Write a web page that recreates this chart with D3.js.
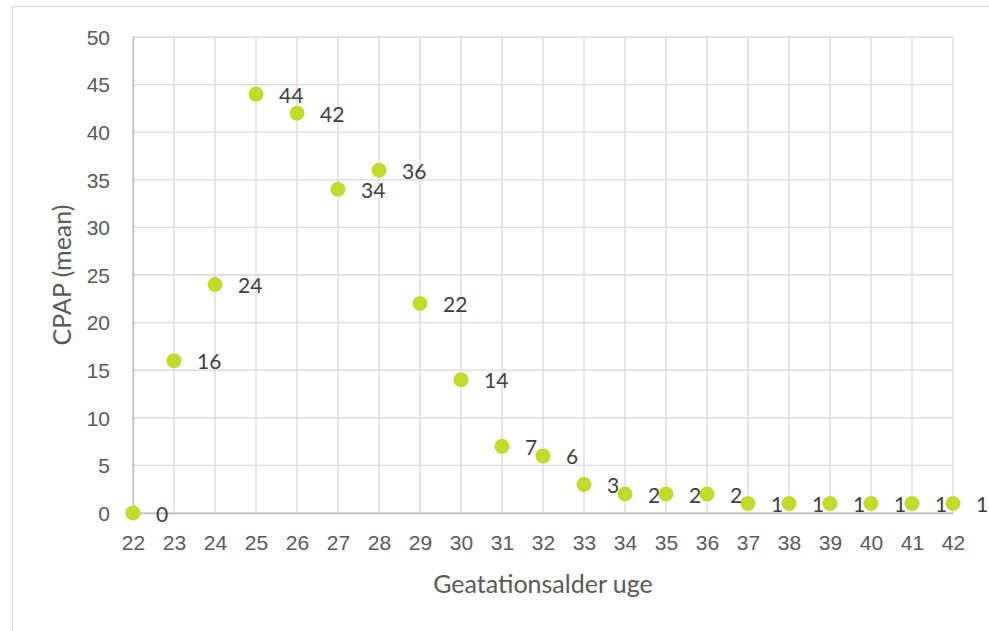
<!DOCTYPE html>
<html>
<head>
<meta charset="utf-8">
<script src="https://cdn.jsdelivr.net/npm/d3@7"></script>
<style>
  html, body { margin: 0; padding: 0; background: #fff; }
  svg { display: block; font-family: Lato, "Noto Sans", sans-serif; }
</style>
</head>
<body>
<svg id="chart" width="989" height="631"></svg>
<script>
// Gestational age (weeks) and mean CPAP
const weeks = [22, 23, 24, 25, 26, 27, 28, 29, 30, 31, 32, 33, 34, 35, 36, 37, 38, 39, 40, 41, 42];
const cpapMean = [0, 16, 24, 44, 42, 34, 36, 22, 14, 7, 6, 3, 2, 2, 2, 1, 1, 1, 1, 1, 1];
const yTicks = [0, 5, 10, 15, 20, 25, 30, 35, 40, 45, 50];
const xTitle = "Geatationsalder uge";
const yTitle = "CPAP (mean)";

const points = weeks.map((w, i) => ({ week: w, value: cpapMean[i] }));

const svg = d3.select("#chart");
const margin = { left: 133, right: 36, top: 37, bottom: 118 };
const W = 989, H = 631;

const x = d3.scaleLinear().domain([22, 42]).range([margin.left, W - margin.right]);
const y = d3.scaleLinear().domain([0, 50]).range([H - margin.bottom, margin.top]);

// chart area frame
svg.append("rect")
  .attr("x", 12.5).attr("y", 6.5)
  .attr("width", 1000).attr("height", 700)
  .attr("fill", "#fff").attr("stroke", "#d9d9d9").attr("stroke-width", 1.3);

// gridlines
const grid = svg.append("g").attr("stroke", "#d9d9d9").attr("stroke-width", 1.3);
grid.selectAll("line.v").data(weeks).join("line")
  .attr("class", "v")
  .attr("x1", d => x(d)).attr("x2", d => x(d))
  .attr("y1", y(50)).attr("y2", y(0));
grid.selectAll("line.h").data(yTicks).join("line")
  .attr("class", "h")
  .attr("x1", x(22)).attr("x2", x(42))
  .attr("y1", d => y(d)).attr("y2", d => y(d));

// axes
const xAxis = svg.append("g")
  .attr("transform", `translate(0,${y(0)})`)
  .call(d3.axisBottom(x).tickValues(weeks).tickFormat(d3.format("d")).tickSize(0).tickPadding(22));
const yAxis = svg.append("g")
  .attr("transform", `translate(${x(22)},0)`)
  .call(d3.axisLeft(y).tickValues(yTicks).tickSize(0).tickPadding(23));
[xAxis, yAxis].forEach(a => {
  a.select(".domain").attr("stroke", "#bfbfbf").attr("stroke-width", 1.5);
  a.selectAll("text").attr("fill", "#595959").attr("font-size", 21).attr("font-family", null);
});
yAxis.selectAll("text").attr("dy", "0.35em");

// axis titles
svg.append("text")
  .attr("x", (x(22) + x(42)) / 2).attr("y", 593)
  .attr("text-anchor", "middle").attr("fill", "#595959").attr("font-size", 25)
  .text(xTitle);
svg.append("text")
  .attr("transform", `translate(71,${(y(0) + y(50)) / 2}) rotate(-90)`)
  .attr("text-anchor", "middle").attr("fill", "#595959").attr("font-size", 25)
  .text(yTitle);

// markers
svg.append("g").selectAll("circle").data(points).join("circle")
  .attr("cx", d => x(d.week)).attr("cy", d => y(d.value))
  .attr("r", 7.5).attr("fill", "#c3d92e");

// value labels to the right of each marker
svg.append("g").selectAll("text").data(points).join("text")
  .attr("x", d => x(d.week) + 23).attr("y", d => y(d.value) + 1)
  .attr("dy", "0.36em").attr("fill", "#404040").attr("font-size", 21)
  .text(d => d.value);
</script>
</body>
</html>
